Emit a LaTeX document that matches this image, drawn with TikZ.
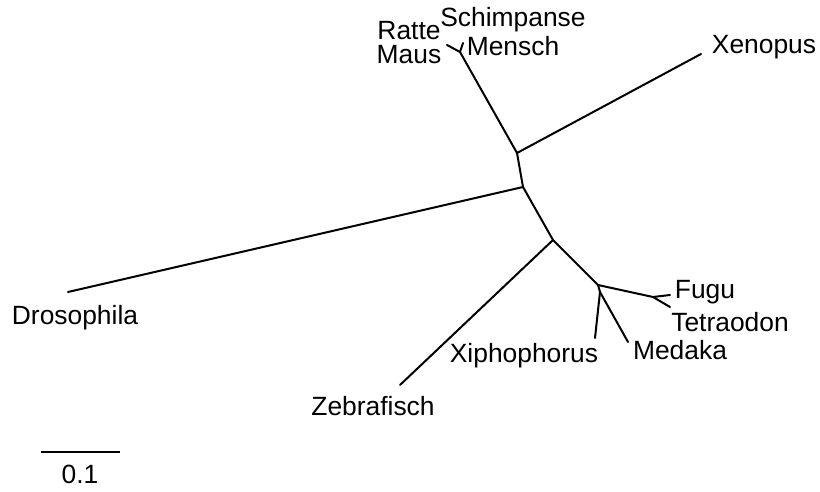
\documentclass[tikz,border=0pt]{standalone}
\usepackage{fontspec}
\setmainfont{Liberation Sans}
\begin{document}
\begin{tikzpicture}[x=0.5pt,y=-0.5pt,
  branch/.style={line width=1pt,line cap=round,line join=round},
  taxon/.style={font=\fontsize{13.2}{15}\selectfont,inner sep=0pt}]
\useasboundingbox (0,0) rectangle (820,492);
% inner nodes of the tree
\coordinate (a) at (517,153);
\coordinate (b) at (523,187);
\coordinate (c) at (553,240);
\coordinate (d) at (598,285);
\coordinate (e) at (600,292);
\coordinate (ft) at (653,297);
\coordinate (hm) at (460,52);
% branch tips
\coordinate (tRatte) at (447,45);
\coordinate (tMensch) at (463,43);
\coordinate (tXenopus) at (701,54);
\coordinate (tDroso) at (68,292);
\coordinate (tZebra) at (400,385);
\coordinate (tXipho) at (595,338);
\coordinate (tMedaka) at (628,342);
\coordinate (tFugu) at (670,295);
\coordinate (tTetra) at (670,307);
% branches
\draw[branch] (tRatte) -- (hm) -- (tMensch);
\draw[branch] (hm) -- (a) -- (tXenopus);
\draw[branch] (a) -- (b) -- (tDroso);
\draw[branch] (b) -- (c) -- (tZebra);
\draw[branch] (c) -- (d) -- (ft) -- (tFugu);
\draw[branch] (ft) -- (tTetra);
\draw[branch] (d) -- (e) -- (tXipho);
\draw[branch] (e) -- (tMedaka);
% taxon labels
\node[taxon] (lRatte) at (409,31) {Ratte};
\node[taxon] (lMaus) at (409,55) {Maus};
\node[taxon] (lSchimp) at (513,20) {Schimpanse};
\node[taxon] (lMensch) at (513,46) {Mensch};
\node[taxon] (lXenopus) at (764,47) {Xenopus};
\node[taxon] (lDroso) at (75,318) {Drosophila};
\node[taxon] (lZebra) at (373,406) {Zebrafisch};
\node[taxon] (lXipho) at (524,356) {Xiphophorus};
\node[taxon] (lMedaka) at (680,350) {Medaka};
\node[taxon] (lFugu) at (705,292) {Fugu};
\node[taxon] (lTetra) at (730,322) {Tetraodon};
% scale bar
\coordinate (s1) at (41,452);
\coordinate (s2) at (120,452);
\draw[branch,line cap=butt] (s1) -- (s2);
\node[taxon] (lScale) at (80,474) {0.1};
\end{tikzpicture}
\end{document}
